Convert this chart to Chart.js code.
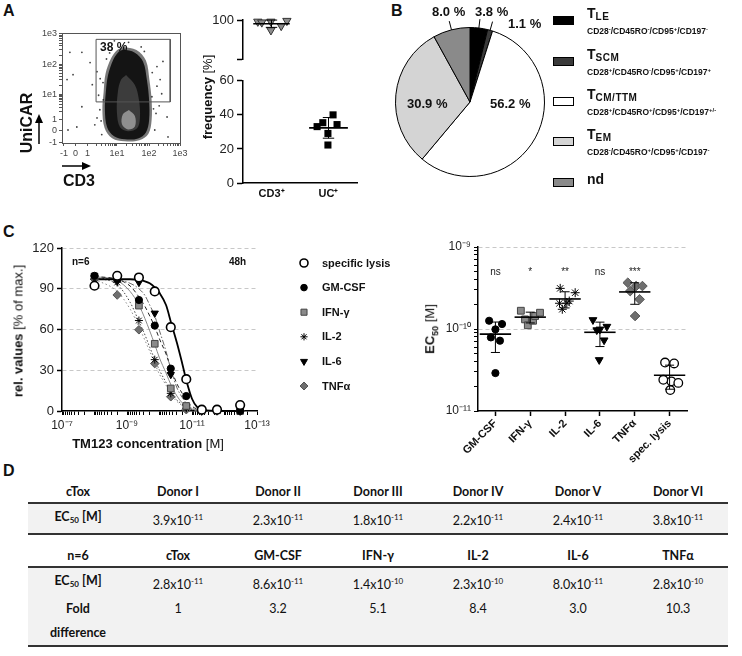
<!doctype html>
<html>
<head>
<meta charset="utf-8">
<title>UniCAR T cells: phenotype and cytokine EC50</title>
<script src="https://cdn.jsdelivr.net/npm/chart.js@4.4.1/dist/chart.umd.min.js"></script>
<style>
  body { margin: 0; background: #fff; font-family: "Liberation Sans", Arial, sans-serif; color: #111; }
  #page { position: relative; width: 742px; height: 656px; overflow: hidden; background: #fff; }
  canvas, .abs { position: absolute; }
  .panel { font-weight: bold; font-size: 16px; }
  .vlabel { position: absolute; transform: translate(-50%, -50%) rotate(-90deg); white-space: nowrap; font-size: 13px; }
  .hlabel { position: absolute; transform: translate(-50%, -50%); white-space: nowrap; font-size: 13px; }
  .b { font-weight: bold; }
  .pct { position: absolute; font-weight: bold; font-size: 13px; white-space: nowrap; }
  .legB { position: absolute; left: 553px; }
  .legB .box { position: absolute; left: 0; width: 19px; height: 7px; border: 1px solid #000; }
  .legB .t { position: absolute; left: 34px; font-weight: bold; font-size: 14px; white-space: nowrap; }
  .legB .t sub { font-size: 10px; vertical-align: -2px; letter-spacing: 0.5px; }
  .legB .s { position: absolute; left: 34px; font-weight: bold; font-size: 8.5px; white-space: nowrap; }
  .legB .s sup { font-size: 6px; vertical-align: 3px; }
  table.tbl { position: absolute; left: 28px; width: 700px; border-collapse: collapse; table-layout: fixed;
              font-family: Lato, "Open Sans", sans-serif; font-size: 12.5px; color: #111; }
  table.tbl th { height: 22px; padding: 0; border-bottom: 2px solid #333; font-weight: bold; }
  table.tbl td { background: #f2f2f2; text-align: center; padding: 0; line-height: 24px; vertical-align: middle; }
  table.tbl td.lab { font-weight: bold; }
  table.tbl tr.last td { border-bottom: 2px solid #333; }
  table.tbl sup { font-size: 8px; vertical-align: 5px; }
  table.tbl sub { font-size: 8px; vertical-align: -2px; }
</style>
</head>
<body>
<div id="page">
  <div class="abs panel" style="left:3px;top:2px">A</div>
  <div class="abs panel" style="left:391px;top:2px">B</div>
  <div class="abs panel" style="left:3px;top:223px">C</div>
  <div class="abs panel" style="left:3px;top:462px">D</div>

  <canvas id="flow" width="200" height="160" style="left:0;top:0"></canvas>
  <canvas id="freqTop" width="170" height="70" style="left:200px;top:0"></canvas>
  <canvas id="freqBottom" width="170" height="135" style="left:200px;top:70px"></canvas>
  <canvas id="pie" width="180" height="190" style="left:380px;top:0"></canvas>
  <canvas id="kill" width="420" height="230" style="left:0;top:220px"></canvas>
  <canvas id="ec50" width="342" height="250" style="left:400px;top:225px"></canvas>

  <div class="abs b" style="left:100px;top:40px;font-size:12px">38 %</div>
  <div class="vlabel b" style="left:27px;top:123px;font-size:16px">UniCAR</div>
  <div class="abs b" style="left:63px;top:172px;font-size:16px">CD3</div>
  <svg class="abs" style="left:0;top:0" width="100" height="200">
    <line x1="39" y1="144" x2="39" y2="122" stroke="#000" stroke-width="1.5"/>
    <polygon points="35,123 43,123 39,114" fill="#000"/>
    <line x1="62" y1="166" x2="83" y2="166" stroke="#000" stroke-width="1.5"/>
    <polygon points="82,162 82,170 91,166" fill="#000"/>
  </svg>
  <div class="vlabel" style="left:207px;top:97px"><span class="b">frequency</span> [%]</div>

  <div id="pieLabels"></div>
  <div id="legendB"></div>

  <div class="abs b" style="left:72px;top:256px;font-size:10px">n=6</div>
  <div class="abs b" style="left:229px;top:256px;font-size:10px">48h</div>
  <div class="vlabel" style="left:18px;top:331px"><span class="b">rel. values</span> [% of max.]</div>
  <div class="hlabel" style="left:148px;top:443px"><span class="b">TM123 concentration</span> [M]</div>
  <div class="vlabel" style="left:431px;top:329px"><span class="b">EC<sub style="font-size:9px">50</sub></span> [M]</div>

  <table class="tbl" id="donorTable" style="top:480px"></table>
  <table class="tbl" id="summaryTable" style="top:544px"></table>
</div>

<script>
// ---------- A: flow plot (axes in display units of the biexponential scale) ----------
var flowTickLabels = ['-1', '0', '1', '1e1', '1e2', '1e3'];
var flowXTicks = [0, 0.37, 0.75, 1.68, 2.70, 3.68];
var flowYTicks = [0, 0.37, 0.76, 1.58, 2.58, 3.58];
var cloudHalo = [[1.87,3.15],[2.30,3.05],[2.60,2.70],[2.71,2.06],[2.78,1.39],[2.78,0.72],[2.68,0.28],[2.39,0.06],
                 [1.92,0.03],[1.53,0.13],[1.29,0.47],[1.22,1.06],[1.26,1.66],[1.32,2.26],[1.50,2.78],[1.68,3.04]];
var cloudOuter = [[1.87,3.06],[2.25,2.96],[2.51,2.66],[2.63,2.06],[2.70,1.39],[2.70,0.72],[2.60,0.32],[2.35,0.12],
                  [1.94,0.09],[1.59,0.19],[1.37,0.49],[1.30,1.06],[1.33,1.66],[1.40,2.22],[1.56,2.72],[1.71,2.96]];
var cloudCore = [[1.97,2.22],[2.25,1.89],[2.38,1.39],[2.41,0.79],[2.32,0.46],[2.03,0.36],[1.78,0.49],[1.68,0.99],[1.71,1.66],[1.81,2.06]];
var cloudLow = [[2.06,1.06],[2.25,0.86],[2.25,0.52],[2.03,0.42],[1.84,0.59],[1.87,0.92]];
var strayEvents = [[0.19,2.97],[0.57,2.97],[0.83,2.63],[0.29,2.23],[0.10,2.07],[0.57,1.17],[0.41,0.50],[0.13,0.40],
                   [1.05,2.33],[1.24,1.97],[3.05,2.07],[3.27,0.83],[3.30,0.17],[2.95,2.50],[1.14,1.07],[2.79,1.50],
                   [3.14,2.67],[0.98,0.57],[1.60,3.35],[2.05,3.30],[3.02,1.20],[1.20,0.25],[1.10,1.55],[1.05,0.80],
                   [2.92,0.95],[2.95,1.85],[2.88,0.40],[1.35,2.75],[2.55,3.00],[1.15,2.10],[3.10,1.60],[0.90,1.90],
                   [2.84,1.10],[2.80,2.30],[1.18,0.70],[1.25,1.40],[2.45,3.15],[1.45,2.95]];
var gateBox = [[1.02,3.40],[3.37,3.40],[3.37,1.33],[1.02,1.33]];

// ---------- A: frequencies ----------
var freqGroups = ['CD3⁺', 'UC⁺'];
var cd3Freq = [99.2, 98.8, 99.2, 94.8, 97.0, 99.6];
var cd3Spread = [-0.24, -0.17, -0.01, -0.01, 0.17, 0.27];
var ucFreq = [33.1, 35.4, 40.0, 34.3, 29.1, 22.3];
var ucSpread = [-0.20, -0.10, 0.08, 0.15, -0.01, -0.01];

// ---------- B: memory subsets ----------
var subsetShares = [3.8, 1.1, 56.2, 30.9, 8.0];
var subsetNames = ['T<sub>LE</sub>', 'T<sub>SCM</sub>', 'T<sub>CM/TTM</sub>', 'T<sub>EM</sub>', 'nd'];
var subsetMarkers = ['CD28<sup>-</sup>/CD45RO<sup>-</sup>/CD95<sup>+</sup>/CD197<sup>-</sup>',
                     'CD28<sup>+</sup>/CD45RO<sup>-</sup>/CD95<sup>+</sup>/CD197<sup>+</sup>',
                     'CD28<sup>+</sup>/CD45RO<sup>+</sup>/CD95<sup>+</sup>/CD197<sup>+/-</sup>',
                     'CD28<sup>-</sup>/CD45RO<sup>+</sup>/CD95<sup>+</sup>/CD197<sup>-</sup>',
                     ''];
var subsetColors = ['#000000', '#3a3a3a', '#ffffff', '#d4d4d4', '#8a8a8a'];

// ---------- C: dose response (TM123 concentration, M) ----------
var concentrations = [1e-8, 2e-9, 4.3e-10, 1.4e-10, 4.5e-11, 1.5e-11, 5e-12, 1.7e-12, 3.3e-13];
var lysisValues = [92.2, 99.5, 98.3, 88.0, 61.7, 23.4, 1.0, 1.0, 4.4];
var gmcsfValues = [99.5, 97.0, 81.7, 62.9, 31.2, 11.0, 1.0, 1.0, 0.0];
var ifngValues  = [99.0, 97.0, 77.6, 49.5, 16.6, 3.7, 0.5, 0.5, 0.0];
var il2Values   = [97.0, 94.6, 66.6, 37.8, 13.0, 2.0, 0.0, 0.0, 0.0];
var il6Values   = [98.0, 95.6, 94.6, 72.0, 26.8, 3.0, 0.0, 0.5, 0.0];
var tnfaValues  = [97.0, 85.4, 59.8, 34.9, 10.5, 1.0, 0.0, 0.0, 0.0];
// fitted curves
var fitConc = [1e-8, 2e-9, 8e-10, 4.3e-10, 2.8e-10, 2e-10, 1.4e-10, 1e-10, 6.3e-11, 4.4e-11, 2.9e-11, 2e-11, 1.4e-11, 1e-11, 7e-12, 4e-12, 3.3e-13];
var lysisFit = [97, 97, 97, 96.5, 95.5, 94, 91, 87, 78, 65, 50, 35, 20, 9, 3, 0.5, 0];
var gmcsfFit = [99, 97, 92, 84, 77, 70, 62, 53, 42, 31, 20, 13, 7, 3.5, 1.5, 0.5, 0];
var ifngFit  = [99, 96, 88, 78, 68, 59, 49, 39, 28, 19, 11, 6, 3, 1.5, 0.5, 0, 0];
var il2Fit   = [98, 93, 80, 66, 56, 47, 38, 30, 21, 14, 8, 5, 2.5, 1, 0.5, 0, 0];
var il6Fit   = [98, 96.5, 94, 90, 85, 78, 70, 59, 44, 30, 17, 10, 5, 2, 1, 0, 0];
var tnfaFit  = [97, 88, 75, 62, 52, 44, 35, 27, 19, 12, 7, 4, 2, 1, 0.5, 0, 0];

// ---------- C: EC50 per donor (M) ----------
var ec50Groups = ['GM-CSF', 'IFN-γ', 'IL-2', 'IL-6', 'TNFα', 'spec. lysis'];
var ec50Sig = ['ns', '*', '**', 'ns', '***', ''];
var ec50GMCSF = [1.26e-10, 9.9e-11, 7.9e-11, 7.2e-11, 1.15e-10, 2.9e-11];
var ec50IFNg  = [1.67e-10, 1.31e-10, 1.11e-10, 1.26e-10, 1.44e-10, 1.58e-10];
var ec50IL2   = [3.13e-10, 2.77e-10, 2.06e-10, 2.06e-10, 2.19e-10, 1.74e-10];
var ec50IL6   = [1.29e-10, 9.9e-11, 1.07e-10, 7.3e-11, 4.2e-11, 9.7e-11];
var ec50TNFa  = [3.67e-10, 3.34e-10, 3.34e-10, 2.9e-10, 2.3e-10, 1.44e-10];
var ec50Lysis = [3.9e-11, 2.3e-11, 1.8e-11, 2.2e-11, 2.4e-11, 3.8e-11];
var ec50Spread = [
  [-0.18, 0.00, -0.13, 0.13, 0.19, 0.00],
  [-0.27, -0.15, -0.07, 0.08, 0.14, 0.28],
  [-0.14, 0.29, -0.16, 0.05, 0.12, -0.08],
  [-0.20, 0.00, 0.20, 0.12, -0.02, -0.09],
  [-0.20, 0.04, 0.22, -0.13, 0.14, 0.01],
  [-0.13, 0.05, 0.02, 0.25, -0.18, 0.13]
];

// ---------- D: tables ----------
var donorNames = ['Donor I', 'Donor II', 'Donor III', 'Donor IV', 'Donor V', 'Donor VI'];
var readouts = ['cTox', 'GM-CSF', 'IFN-γ', 'IL-2', 'IL-6', 'TNFα'];
var summaryEC50 = [2.8e-11, 8.6e-11, 1.4e-10, 2.3e-10, 8.0e-11, 2.8e-10];
var foldDifference = ['1', '3.2', '5.1', '8.4', '3.0', '10.3'];

// ---------------------------------------------------------------------
Chart.defaults.font.family = '"Liberation Sans", Arial, sans-serif';
Chart.defaults.color = '#222';
Chart.defaults.animation = false;
Chart.defaults.plugins.legend.display = false;
Chart.defaults.plugins.tooltip.enabled = false;

var SUP = {'-': '⁻', '0': '⁰', '1': '¹', '2': '²', '3': '³', '4': '⁴', '5': '⁵', '6': '⁶', '7': '⁷', '8': '⁸', '9': '⁹'};
function pow10Label(e) {
  return '10' + String(e).split('').map(function (c) { return SUP[c]; }).join('');
}
function decade(v) {
  var e = Math.log10(v);
  return Math.abs(e - Math.round(e)) < 1e-6 ? Math.round(e) : null;
}
function logTicks(lo, hi) {
  var out = [];
  for (var e = lo; e < hi; e++) {
    for (var m = 1; m < 10; m++) out.push({value: m * Math.pow(10, e)});
  }
  out.push({value: Math.pow(10, hi)});
  return out;
}
// major ticks of the flow axes plus minor ticks inside the three upper decades
function flowTicks(major) {
  var out = major.map(function (v) { return {value: v}; });
  for (var d = 2; d < 5; d++) {
    for (var m = 2; m < 10; m++) {
      out.push({value: major[d] + Math.log10(m) * (major[d + 1] - major[d])});
    }
  }
  return out.sort(function (a, b) { return a.value - b.value; });
}
function flowLabel(major) {
  return function (v) {
    var i = major.indexOf(v);
    return i >= 0 ? flowTickLabels[i] : '';
  };
}
function fixW(w) { return function (s) { s.width = w; }; }
function fixH(h) { return function (s) { s.height = h; }; }
function xy(arr, close) {
  var pts = arr.map(function (p) { return {x: p[0], y: p[1]}; });
  if (close) pts.push(pts[0]);
  return pts;
}
function pairs(xs, ys) { return xs.map(function (x, i) { return {x: x, y: ys[i]}; }); }
function jitter(center, spread, ys) { return ys.map(function (y, i) { return {x: center + spread[i], y: y}; }); }
function mean(a) { return a.reduce(function (s, v) { return s + v; }, 0) / a.length; }
function stdev(a) {
  var m = mean(a);
  return Math.sqrt(a.reduce(function (s, v) { return s + (v - m) * (v - m); }, 0) / (a.length - 1));
}

// mean line with SD whiskers for scatter dot plots
function meanSd(groups, half, cap) {
  return {
    id: 'meanSd',
    afterDatasetsDraw: function (chart) {
      var ctx = chart.ctx, xs = chart.scales.x, ys = chart.scales.y;
      ctx.save();
      ctx.strokeStyle = '#000';
      groups.forEach(function (g) {
        var vals = chart.data.datasets[g.dataset].data.map(function (p) { return p.y; });
        var m = mean(vals), s = stdev(vals);
        var yM = ys.getPixelForValue(m), yT = ys.getPixelForValue(m + s);
        var yB = m - s > 0 ? ys.getPixelForValue(m - s) : yM;
        var xC = xs.getPixelForValue(g.x);
        ctx.lineWidth = 1.6;
        ctx.beginPath();
        ctx.moveTo(xs.getPixelForValue(g.x - half), yM);
        ctx.lineTo(xs.getPixelForValue(g.x + half), yM);
        ctx.stroke();
        ctx.lineWidth = 1;
        ctx.beginPath();
        ctx.moveTo(xC, yT); ctx.lineTo(xC, yB);
        ctx.moveTo(xs.getPixelForValue(g.x - cap), yT); ctx.lineTo(xs.getPixelForValue(g.x + cap), yT);
        ctx.moveTo(xs.getPixelForValue(g.x - cap), yB); ctx.lineTo(xs.getPixelForValue(g.x + cap), yB);
        ctx.stroke();
      });
      ctx.restore();
    }
  };
}

var framePlugin = {
  id: 'frame',
  afterDraw: function (chart) {
    var a = chart.chartArea, ctx = chart.ctx;
    ctx.save();
    ctx.strokeStyle = '#555';
    ctx.lineWidth = 1;
    ctx.strokeRect(Math.round(a.left) + 0.5, Math.round(a.top) + 0.5, a.right - a.left, a.bottom - a.top);
    ctx.restore();
  }
};

// ---------- A: flow cytometry dot plot ----------
function blob(points, color, order) {
  return {data: xy(points, true), fill: 'shape', backgroundColor: color, borderWidth: 0,
          pointRadius: 0, tension: 0.35, order: order};
}
new Chart(document.getElementById('flow'), {
  type: 'line',
  data: {
    datasets: [
      {data: xy(gateBox, true), borderColor: '#555', borderWidth: 1, fill: false, pointRadius: 0, order: 0},
      blob(cloudLow, '#8f8f8f', 1),
      blob(cloudCore, '#3c3c3c', 2),
      blob(cloudOuter, '#141414', 3),
      blob(cloudHalo, 'rgba(30,30,30,0.6)', 4),
      {data: xy(strayEvents), showLine: false, pointRadius: 0.9, pointBorderWidth: 0,
       pointBackgroundColor: '#444', order: 5}
    ]
  },
  options: {
    responsive: false,
    layout: {padding: {top: 33, right: 20, left: 0, bottom: 0}},
    scales: {
      x: {
        type: 'linear', min: -0.06, max: 3.68, afterFit: fixH(17),
        afterBuildTicks: function (s) { s.ticks = flowTicks(flowXTicks); },
        ticks: {callback: flowLabel(flowXTicks), autoSkip: false, font: {size: 9}, color: '#444', padding: 2, maxRotation: 0},
        grid: {drawOnChartArea: false, tickLength: 3, tickColor: '#555'},
        border: {color: '#555'}
      },
      y: {
        min: -0.03, max: 3.61, afterFit: fixW(62),
        afterBuildTicks: function (s) { s.ticks = flowTicks(flowYTicks); },
        ticks: {callback: flowLabel(flowYTicks), autoSkip: false, font: {size: 9}, color: '#444', padding: 2},
        grid: {drawOnChartArea: false, tickLength: 3, tickColor: '#555'},
        border: {color: '#555'}
      }
    }
  },
  plugins: [framePlugin]
});

// ---------- A: frequency dot plot with broken y axis ----------
var freqX = {
  type: 'linear', min: 0, max: 2,
  afterBuildTicks: function (s) { s.ticks = [{value: 0.5}, {value: 1.5}]; },
  ticks: {callback: function (v, i) { return freqGroups[i]; }, font: {size: 11, weight: 'bold'}, color: '#111', padding: 4},
  grid: {drawOnChartArea: false, drawTicks: false},
  border: {color: '#000', width: 1.5}
};
new Chart(document.getElementById('freqTop'), {
  type: 'line',
  data: {datasets: [{
    data: jitter(0.5, cd3Spread, cd3Freq), showLine: false, clip: false,
    pointStyle: 'triangle', pointRotation: 180, pointRadius: 4.8,
    pointBackgroundColor: '#8c8c8c', pointBorderColor: '#333', pointBorderWidth: 1
  }]},
  options: {
    responsive: false,
    layout: {padding: {top: 20, right: 13, bottom: 5, left: 0}},
    scales: {
      x: {type: 'linear', min: 0, max: 2, display: false},
      y: {
        min: 80, max: 100, afterFit: fixW(43),
        afterBuildTicks: function (s) { s.ticks = [{value: 80}, {value: 100}]; },
        ticks: {callback: function (v) { return v === 100 ? '100' : ''; }, font: {size: 13}, color: '#222', padding: 3},
        grid: {drawOnChartArea: false, tickLength: 6, tickColor: '#000', tickWidth: 1.5},
        border: {color: '#000', width: 1.5}
      }
    }
  },
  plugins: [meanSd([{dataset: 0, x: 0.5}], 0.32, 0.1)]
});
new Chart(document.getElementById('freqBottom'), {
  type: 'line',
  data: {datasets: [{
    data: jitter(1.5, ucSpread, ucFreq), showLine: false, clip: false,
    pointStyle: 'rect', pointRadius: 5, pointBackgroundColor: '#000', pointBorderColor: '#000', pointBorderWidth: 0
  }]},
  options: {
    responsive: false,
    layout: {padding: {top: 7, right: 13, bottom: 0, left: 0}},
    scales: {
      x: Object.assign({afterFit: fixH(22)}, freqX),
      y: {
        min: 0, max: 60, afterFit: fixW(43),
        ticks: {stepSize: 20, font: {size: 13}, color: '#222', padding: 3},
        grid: {drawOnChartArea: false, tickLength: 6, tickColor: '#000', tickWidth: 1.5},
        border: {color: '#000', width: 1.5}
      }
    }
  },
  plugins: [meanSd([{dataset: 0, x: 1.5}], 0.34, 0.1)]
});

// ---------- B: pie of memory subsets ----------
var leaderPlugin = {
  id: 'leaders',
  afterDatasetsDraw: function (chart) {
    var arcs = chart.getDatasetMeta(0).data, ctx = chart.ctx;
    ctx.save();
    ctx.strokeStyle = '#000';
    ctx.lineWidth = 1;
    [0, 1, 4].forEach(function (i) {
      var a = arcs[i], mid = (a.startAngle + a.endAngle) / 2, r = a.outerRadius;
      ctx.beginPath();
      ctx.moveTo(a.x + Math.cos(mid) * r, a.y + Math.sin(mid) * r);
      ctx.lineTo(a.x + Math.cos(mid) * (r + 9), a.y + Math.sin(mid) * (r + 9));
      ctx.stroke();
    });
    ctx.restore();
  }
};
new Chart(document.getElementById('pie'), {
  type: 'pie',
  data: {datasets: [{data: subsetShares, backgroundColor: subsetColors, borderColor: '#000', borderWidth: 1}]},
  options: {responsive: false, layout: {padding: {left: 15, right: 15, top: 27, bottom: 13}}},
  plugins: [leaderPlugin]
});
var pieLabelSpots = [[475, 4], [508, 16], [490, 96], [407, 96], [432, 4]];
document.getElementById('pieLabels').innerHTML = subsetShares.map(function (v, i) {
  return '<div class="pct" style="left:' + pieLabelSpots[i][0] + 'px;top:' + pieLabelSpots[i][1] + 'px">' + v.toFixed(1) + ' %</div>';
}).join('');
var legendRowsB = [21, 62, 102, 142, 183];
document.getElementById('legendB').innerHTML = subsetNames.map(function (n, i) {
  var c = legendRowsB[i];
  var html = '<div class="legB" style="top:' + (c - 5) + 'px"><div class="box" style="background:' + subsetColors[i] + '"></div>';
  html += '<div class="t" style="top:' + (subsetMarkers[i] ? -11 : -7) + 'px">' + n + '</div>';
  if (subsetMarkers[i]) html += '<div class="s" style="top:10px">' + subsetMarkers[i] + '</div>';
  return html + '</div>';
}).join('');

// ---------- C: dose response curves ----------
var sideLegend = {
  id: 'sideLegend',
  afterDraw: function (chart) {
    var ctx = chart.ctx, row = 0;
    ctx.save();
    ctx.font = 'bold 11px "Liberation Sans", Arial, sans-serif';
    ctx.textBaseline = 'middle';
    chart.data.datasets.forEach(function (ds) {
      if (!ds.inLegend) return;
      var y = 43 + row * 24.6;
      ctx.fillStyle = ds.pointBackgroundColor;
      ctx.strokeStyle = ds.pointBorderColor;
      ctx.lineWidth = ds.pointBorderWidth;
      Chart.helpers.drawPoint(ctx, {pointStyle: ds.pointStyle, rotation: ds.pointRotation || 0,
        radius: ds.legendRadius, borderWidth: ds.pointBorderWidth}, 304, y);
      ctx.fillStyle = '#111';
      ctx.fillText(ds.label, 322, y + 0.5);
      row++;
    });
    ctx.restore();
  }
};
function pointSet(label, values, style) {
  return Object.assign({label: label, data: pairs(concentrations, values), showLine: false, clip: false,
    inLegend: true, pointBorderColor: '#000', pointBorderWidth: 1, order: 0}, style);
}
function fitSet(values, color, width, dash) {
  return {data: pairs(fitConc, values), borderColor: color, borderWidth: width, borderDash: dash,
    pointRadius: 0, cubicInterpolationMode: 'monotone', fill: false, clip: false, order: 1};
}
new Chart(document.getElementById('kill'), {
  type: 'line',
  data: {datasets: [
    pointSet('specific lysis', lysisValues, {pointStyle: 'circle', pointRadius: 4.3, legendRadius: 4, pointBackgroundColor: '#fff', pointBorderWidth: 1.6}),
    pointSet('GM-CSF', gmcsfValues, {pointStyle: 'circle', pointRadius: 3.6, legendRadius: 3.3, pointBackgroundColor: '#000'}),
    pointSet('IFN-γ', ifngValues, {pointStyle: 'rect', pointRadius: 4.7, legendRadius: 4.3, pointBackgroundColor: '#8a8a8a', pointBorderColor: '#444'}),
    pointSet('IL-2', il2Values, {pointStyle: 'star', pointRadius: 4, legendRadius: 3.6, pointBackgroundColor: '#000'}),
    pointSet('IL-6', il6Values, {pointStyle: 'triangle', pointRotation: 180, pointRadius: 4.2, legendRadius: 4, pointBackgroundColor: '#000'}),
    pointSet('TNFα', tnfaValues, {pointStyle: 'rectRot', pointRadius: 4.3, legendRadius: 4, pointBackgroundColor: '#6f6f6f', pointBorderColor: '#555'}),
    fitSet(lysisFit, '#000', 1.8, []),
    fitSet(gmcsfFit, '#222', 1, [4, 3]),
    fitSet(ifngFit, '#888', 1, []),
    fitSet(il2Fit, '#444', 1, [1.5, 2]),
    fitSet(il6Fit, '#666', 1, [6, 2, 1.5, 2]),
    fitSet(tnfaFit, '#888', 1, [1.5, 2.5])
  ]},
  options: {
    responsive: false,
    layout: {padding: {top: 28, right: 163, bottom: 0, left: 0}},
    scales: {
      x: {
        type: 'logarithmic', reverse: true, min: 1e-13, max: 1e-7, afterFit: fixH(39),
        afterBuildTicks: function (s) { s.ticks = logTicks(-13, -7); },
        ticks: {
          autoSkip: false, maxRotation: 0, font: {size: 12}, color: '#222', padding: 3,
          callback: function (v) { var e = decade(v); return e !== null && Math.abs(e) % 2 === 1 ? pow10Label(e) : ''; }
        },
        grid: {drawOnChartArea: false, tickLength: 4, tickColor: '#000'},
        border: {color: '#000', width: 1.5}
      },
      y: {
        min: 0, max: 120, afterFit: fixW(62),
        ticks: {stepSize: 30, font: {size: 13}, color: '#222', padding: 3},
        grid: {
          color: function (c) { return c.tick && c.tick.value > 0 ? '#c8c8c8' : 'rgba(0,0,0,0)'; },
          tickColor: '#000', tickLength: 5, tickWidth: 1.5, lineWidth: 1
        },
        border: {color: '#000', width: 1.5, dash: [4, 3]}
      }
    }
  },
  plugins: [sideLegend]
});

// ---------- C: EC50 scatter ----------
var sigPlugin = {
  id: 'sig',
  afterDatasetsDraw: function (chart) {
    var ctx = chart.ctx;
    ctx.save();
    ctx.font = '10px "Liberation Sans", Arial, sans-serif';
    ctx.fillStyle = '#222';
    ctx.textAlign = 'center';
    ctx.textBaseline = 'middle';
    ec50Sig.forEach(function (t, i) {
      ctx.fillText(t, chart.scales.x.getPixelForValue(i), chart.scales.y.getPixelForValue(4.9e-10));
    });
    ctx.restore();
  }
};
function ec50Set(i, values, style) {
  return Object.assign({data: jitter(i, ec50Spread[i], values), showLine: false, clip: false,
    pointBorderColor: '#000', pointBorderWidth: 1}, style);
}
var ec50Data = [ec50GMCSF, ec50IFNg, ec50IL2, ec50IL6, ec50TNFa, ec50Lysis];
new Chart(document.getElementById('ec50'), {
  type: 'line',
  data: {datasets: [
    ec50Set(0, ec50GMCSF, {pointStyle: 'circle', pointRadius: 3.6, pointBackgroundColor: '#000'}),
    ec50Set(1, ec50IFNg, {pointStyle: 'rect', pointRadius: 4.8, pointBackgroundColor: '#8a8a8a', pointBorderColor: '#444'}),
    ec50Set(2, ec50IL2, {pointStyle: 'star', pointRadius: 4.5, pointBackgroundColor: '#000'}),
    ec50Set(3, ec50IL6, {pointStyle: 'triangle', pointRotation: 180, pointRadius: 4.5, pointBackgroundColor: '#000'}),
    ec50Set(4, ec50TNFa, {pointStyle: 'rectRot', pointRadius: 4.8, pointBackgroundColor: '#6f6f6f', pointBorderColor: '#555'}),
    ec50Set(5, ec50Lysis, {pointStyle: 'circle', pointRadius: 4.3, pointBackgroundColor: '#fff', pointBorderWidth: 1.3})
  ]},
  options: {
    responsive: false,
    layout: {padding: {top: 22, right: 55, bottom: 0, left: 0}},
    scales: {
      x: {
        type: 'linear', min: -0.5, max: 5.5, afterFit: fixH(64),
        afterBuildTicks: function (s) { s.ticks = ec50Groups.map(function (g, i) { return {value: i}; }); },
        ticks: {callback: function (v, i) { return ec50Groups[i]; }, minRotation: 45, maxRotation: 45,
                font: {size: 11, weight: 'bold'}, color: '#111', padding: 1},
        grid: {drawOnChartArea: false, tickLength: 5, tickColor: '#000', tickWidth: 1.5},
        border: {color: '#000', width: 1.5}
      },
      y: {
        type: 'logarithmic', min: 1e-11, max: 1e-9, afterFit: fixW(78),
        afterBuildTicks: function (s) { s.ticks = logTicks(-11, -9); },
        ticks: {autoSkip: false, font: {size: 12}, color: '#222', padding: 3,
                callback: function (v) { var e = decade(v); return e !== null ? pow10Label(e) : ''; }},
        grid: {
          color: function (c) { return c.tick && decade(c.tick.value) !== null && decade(c.tick.value) > -11 ? '#c8c8c8' : 'rgba(0,0,0,0)'; },
          tickColor: '#000', tickLength: 4, tickWidth: 1, lineWidth: 1
        },
        border: {color: '#000', width: 1.5, dash: [4, 3]}
      }
    }
  },
  plugins: [sigPlugin, meanSd(ec50Data.map(function (d, i) { return {dataset: i, x: i}; }), 0.45, 0.13)]
});

// ---------- D: tables ----------
function sci(v) {
  var e = Math.floor(Math.log10(v) + 1e-9);
  return (v / Math.pow(10, e)).toFixed(1) + 'x10<sup>' + e + '</sup>';
}
var ec50Head = 'EC<sub>50</sub> [M]';
document.getElementById('donorTable').innerHTML =
  '<tr><th>cTox</th>' + donorNames.map(function (d) { return '<th>' + d + '</th>'; }).join('') + '</tr>' +
  '<tr class="last" style="height:31px"><td class="lab">' + ec50Head + '</td>' +
  ec50Lysis.map(function (v) { return '<td>' + sci(v) + '</td>'; }).join('') + '</tr>';
document.getElementById('summaryTable').innerHTML =
  '<tr><th>n=6</th>' + readouts.map(function (r) { return '<th>' + r + '</th>'; }).join('') + '</tr>' +
  '<tr style="height:30px"><td class="lab">' + ec50Head + '</td>' +
  summaryEC50.map(function (v) { return '<td>' + sci(v) + '</td>'; }).join('') + '</tr>' +
  '<tr class="last" style="height:48px"><td class="lab">Fold<br>difference</td>' +
  foldDifference.map(function (f) { return '<td style="vertical-align:top">' + f + '</td>'; }).join('') + '</tr>';
</script>
</body>
</html>
